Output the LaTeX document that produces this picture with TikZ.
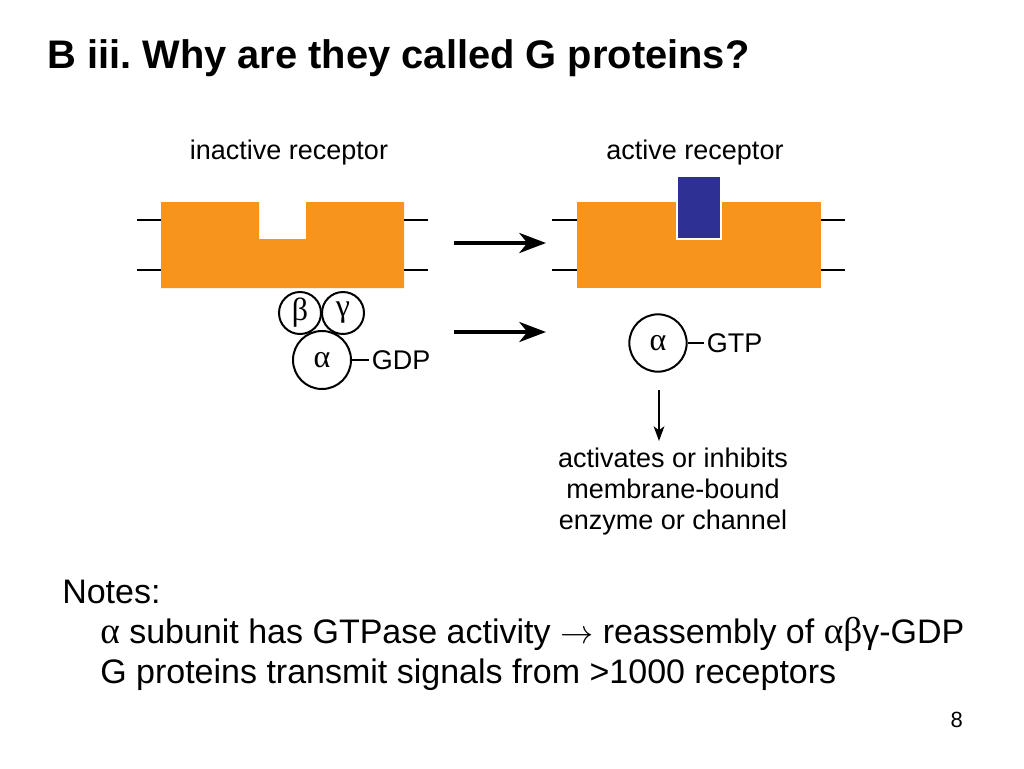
\documentclass[tikz,border=0pt]{standalone}
\usepackage{fontspec}
\setmainfont{Liberation Sans}
\newfontfamily\grk{Liberation Serif}
\usetikzlibrary{arrows.meta}
\definecolor{recorange}{HTML}{F7941D}
\definecolor{ligblue}{HTML}{2E3192}
\frenchspacing
\begin{document}
\begin{tikzpicture}[x=0.75pt,y=-0.75pt,
  lbl/.style={inner sep=0pt, font=\fontsize{20.25pt}{23.25pt}\selectfont},
  memb/.style={line width=1.4pt},
  subunit/.style={circle, draw, line width=1.5pt, inner sep=0pt, font=\grk\fontsize{24pt}{26pt}\selectfont},
  bigarrow/.style={line width=3pt, -{Stealth[length=20pt,width=15pt,inset=6pt]}},
  smallarrow/.style={line width=1.5pt, -{Stealth[length=11pt,width=8pt,inset=3pt]}},
  notes/.style={inner sep=0pt, anchor=base west, font=\fontsize{25.5pt}{30pt}\selectfont}
]
\useasboundingbox (0,0) rectangle (1024,768);
\fill[white] (0,0) rectangle (1024,768);

% title
\node[inner sep=0pt, anchor=base west, font=\bfseries\fontsize{29.9pt}{32pt}\selectfont] (title) at (47,68) {B iii. Why are they called G proteins?};

% inactive receptor
\node[lbl, anchor=base] (inlbl) at (289,159) {inactive receptor};
\fill[recorange] (161,202) -- (259,202) -- (259,239) -- (306,239) -- (306,202) -- (404,202) -- (404,288) -- (161,288) -- cycle;
\draw[memb] (137,220) -- (161,220);
\draw[memb] (137,270) -- (161,270);
\draw[memb] (404,220) -- (428,220);
\draw[memb] (404,270) -- (428,270);

\node[subunit, minimum size=31.5pt] (beta) at (300,313) {β};
\node[subunit, minimum size=31.5pt] (gamma) at (343,313) {γ};
\node[subunit, minimum size=43.5pt] (alpha1) at (322,360) {α};
\node[lbl, anchor=west, inner xsep=2pt] (gdp) at (369,360) {GDP};
\draw[line width=1.5pt] (alpha1.east) -- (gdp.west);

% reaction arrows
\coordinate (a1s) at (454,243);
\coordinate (a1e) at (546,243);
\coordinate (a2s) at (454,332);
\coordinate (a2e) at (546,332);
\draw[bigarrow] (a1s) -- (a1e);
\draw[bigarrow] (a2s) -- (a2e);

% active receptor
\node[lbl, anchor=base] (aclbl) at (695,159) {active receptor};
\fill[recorange] (577,202) rectangle (821,288);
\filldraw[fill=ligblue, draw=white, line width=1.5pt] (677,176) rectangle (721,239);
\draw[memb] (552,220) -- (577,220);
\draw[memb] (552,270) -- (577,270);
\draw[memb] (821,220) -- (845,220);
\draw[memb] (821,270) -- (845,270);

\node[subunit, minimum size=43pt] (alpha2) at (658,343) {α};
\node[lbl, anchor=west, inner xsep=2pt] (gtp) at (704,343) {GTP};
\draw[line width=1.5pt] (alpha2.east) -- (gtp.west);

\node[lbl, anchor=base, align=center] (effect) at (673,529) {activates or inhibits\\membrane-bound\\enzyme or channel};
\coordinate (dstart) at (659,390);
\coordinate (dend) at (659,441);
\draw[smallarrow] (dstart) -- (dend);

% notes
\node[notes] (n0) at (62,603) {Notes:};
\node[notes] (n1) at (100,643) {{\grk\fontsize{28pt}{30pt}\selectfont α} subunit has GTPase activity $\rightarrow$ reassembly of {\grk\fontsize{28pt}{30pt}\selectfont αβ}γ-GDP};
\node[notes] (n2) at (100,683) {G proteins transmit signals from >1000 receptors};

\node[inner sep=0pt, anchor=base east, font=\fontsize{16.5pt}{18pt}\selectfont] (page) at (963,727) {8};
\end{tikzpicture}
\end{document}
